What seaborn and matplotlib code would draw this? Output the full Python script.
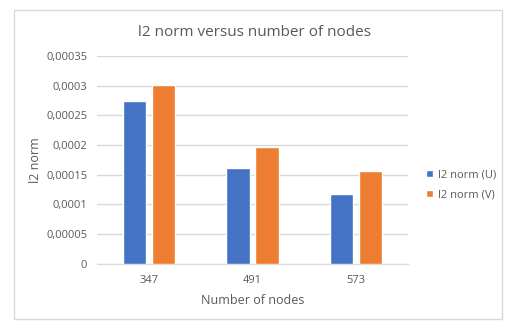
import matplotlib
matplotlib.use("Agg")
import matplotlib.pyplot as plt
from matplotlib.patches import Rectangle
from matplotlib.ticker import FixedLocator
import pandas as pd
import seaborn as sns

NODES = ["347", "491", "573"]
SERIES = ["l2 norm (U)", "l2 norm (V)"]
NORM_U = [0.000274, 0.000161, 0.000118]
NORM_V = [0.000301, 0.000196, 0.000157]
Y_TICKS = [0, 0.00005, 0.0001, 0.00015, 0.0002, 0.00025, 0.0003, 0.00035]
Y_TICK_LABELS = ["0", "0,00005", "0,0001", "0,00015", "0,0002", "0,00025", "0,0003", "0,00035"]

COLORS = ["#4472C4", "#ED7D31"]
TEXT = "#595959"
GRID = "#D9D9D9"

df = pd.DataFrame({
    "nodes": NODES * 2,
    "series": [SERIES[0]] * 3 + [SERIES[1]] * 3,
    "value": NORM_U + NORM_V,
})

sns.set_style("white")
plt.rcParams["font.family"] = ["Open Sans", "DejaVu Sans"]

fig = plt.figure(figsize=(5.1, 3.25), dpi=100)
ax = fig.add_axes([0.190, 0.188, 0.610, 0.640])

sns.barplot(data=df, x="nodes", y="value", hue="series", order=NODES,
            hue_order=SERIES, palette=COLORS, width=0.56, gap=0.2,
            saturation=1, errorbar=None, ax=ax, zorder=3)

ax.set_ylim(0, 0.00035)
ax.set_xlim(-0.5, 2.5)
ax.set_yticks(Y_TICKS)
ax.set_yticklabels(Y_TICK_LABELS)
ax.yaxis.grid(True, color=GRID, linewidth=1, zorder=0)
ax.set_axisbelow(True)
for side in ["top", "right", "left"]:
    ax.spines[side].set_visible(False)
ax.spines["bottom"].set_color(GRID)
ax.tick_params(axis="y", length=0, labelsize=8, labelcolor=TEXT, pad=7)
ax.tick_params(axis="x", which="major", length=0, labelsize=8, labelcolor=TEXT, pad=8)
ax.xaxis.set_minor_locator(FixedLocator([-0.5, 0.5, 1.5, 2.5]))
ax.tick_params(axis="x", which="minor", length=4, color=GRID, width=1)

ax.set_xlabel("Number of nodes", fontsize=9, color=TEXT, labelpad=6)
ax.set_ylabel("l2 norm", fontsize=9, color=TEXT, labelpad=3)
fig.text(0.5, 0.90, "l2 norm versus number of nodes", ha="center", va="center",
         fontsize=11, color=TEXT)

leg = ax.legend(loc="center left", bbox_to_anchor=(1.045, 0.38), frameon=False,
                fontsize=8, handlelength=0.6, handleheight=0.6,
                handletextpad=0.4, labelspacing=0.85, borderaxespad=0)
for t in leg.get_texts():
    t.set_color(TEXT)

fig.patches.append(Rectangle((0.028, 0.02), 0.957, 0.95, transform=fig.transFigure,
                             fill=False, edgecolor=GRID, linewidth=1))

fig.savefig("out.png", dpi=100, facecolor="white")
